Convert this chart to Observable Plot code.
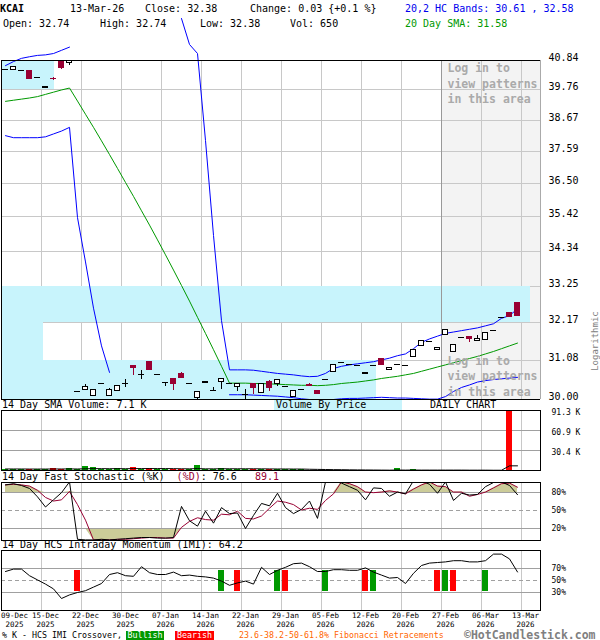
<!DOCTYPE html>
<html><head><meta charset="utf-8">
<script src="https://cdn.jsdelivr.net/npm/d3@7"></script>
<script src="https://cdn.jsdelivr.net/npm/@observablehq/plot@0.6"></script>
<style>
body{margin:0;background:#fff;}
#c{position:relative;width:600px;height:640px;overflow:hidden;font-family:"DejaVu Sans Mono",monospace;background:#fff;}
.t{position:absolute;white-space:pre;font-size:10px;line-height:10px;color:#000;}
</style></head><body><div id="c"></div><script>
// ---------------- data ----------------
const dates = ["2025-12-09","2025-12-10","2025-12-11","2025-12-12","2025-12-15","2025-12-16","2025-12-17","2025-12-18","2025-12-19","2025-12-22","2025-12-23","2025-12-24","2025-12-26","2025-12-29","2025-12-30","2025-12-31","2026-01-02","2026-01-05","2026-01-06","2026-01-07","2026-01-08","2026-01-09","2026-01-12","2026-01-13","2026-01-14","2026-01-15","2026-01-16","2026-01-20","2026-01-21","2026-01-22","2026-01-23","2026-01-26","2026-01-27","2026-01-28","2026-01-29","2026-01-30","2026-02-02","2026-02-03","2026-02-04","2026-02-05","2026-02-06","2026-02-09","2026-02-10","2026-02-11","2026-02-12","2026-02-13","2026-02-17","2026-02-18","2026-02-19","2026-02-20","2026-02-23","2026-02-24","2026-02-25","2026-02-26","2026-02-27","2026-03-02","2026-03-03","2026-03-04","2026-03-05","2026-03-06","2026-03-09","2026-03-10","2026-03-11","2026-03-12","2026-03-13"];
const open = [40.50,40.50,40.47,40.47,40.20,39.84,40.17,40.77,40.74,30.21, 30.25,30.10,30.43,30.10,30.24,30.44,30.92,30.68,31.03,30.68, 30.47,30.56,30.70,30.43,30.03,30.45,30.24,30.47,30.45,30.35, 30.14,30.42,30.17,30.49,30.43,30.35,30.08,30.27,30.41,30.24, 30.56,30.77,31.03,30.96,30.93,30.70,30.93,31.13,30.83,30.97, 30.95,31.17,31.49,31.63,31.37,31.82,31.33,31.75,31.75,31.63, 31.66,31.95,32.32,32.47,32.74];
const high = [40.50,40.60,40.47,40.47,40.20,39.87,40.22,40.77,40.84,30.21, 30.40,30.27,30.43,30.31,30.38,30.54,30.92,30.79,31.03,30.68, 30.47,30.56,30.74,30.43,30.21,30.49,30.33,30.56,30.45,30.43, 30.27,30.42,30.43,30.52,30.55,30.35,30.22,30.27,30.45,30.24, 30.56,30.96,31.03,30.96,30.93,30.74,30.93,31.13,30.87,30.97, 30.95,31.38,31.65,31.63,31.44,31.97,31.52,31.75,31.75,31.81, 31.86,31.95,32.32,32.47,32.74];
const low = [40.50,40.50,40.47,40.15,40.20,39.84,40.10,40.50,40.65,30.21, 30.24,30.10,30.43,30.10,30.24,30.33,30.66,30.55,30.81,30.68, 30.36,30.24,30.57,30.43,30.00,30.45,30.24,30.27,30.45,30.22, 30.00,30.14,30.17,30.22,30.35,30.35,30.08,30.27,30.35,30.16, 30.56,30.77,31.03,30.96,30.93,30.70,30.93,30.96,30.83,30.97, 30.95,31.17,31.49,31.63,31.37,31.82,31.33,31.75,31.60,31.63, 31.66,31.95,32.32,32.32,32.38];
const close = [40.50,40.60,40.47,40.15,40.20,39.87,40.15,40.55,40.81,30.21, 30.33,30.26,30.43,30.25,30.38,30.44,30.87,30.68,30.81,30.68, 30.47,30.43,30.60,30.43,30.21,30.49,30.24,30.56,30.45,30.43, 30.14,30.31,30.43,30.31,30.55,30.35,30.22,30.27,30.37,30.16, 30.56,30.96,31.03,30.96,30.93,30.74,30.93,30.96,30.87,30.97, 30.95,31.38,31.65,31.63,31.44,31.97,31.52,31.75,31.70,31.70, 31.86,31.95,32.32,32.35,32.38];
// volume in thousands of shares
const volume = [2.0,2.0,2.0,1.5,2.0,2.0,3.5,2.0,3.5,1.5, 6.6,5.1,2.0,1.5,3.5,1.5,5.1,1.5,3.5,1.5, 1.5,1.5,1.5,1.5,8.1,1.5,1.5,3.5,1.5,1.5, 1.5,2.0,1.5,1.5,1.5,1.5,1.5,1.5,0.1,0.1, 0.1,0.1,0.1,0.1,0.1,0.1,0.1,0.1,0.1,3.5, 0.1,2.0,0.1,0.1,0.1,0.1,0.1,0.1,0.1,0.1, 0.1,0.1,0.1,96.0,0.65];
const volumeSma14 = [2.3,2.3,2.3,2.2,2.2,2.2,2.3,2.3,2.4,2.3, 2.6,2.8,2.8,2.7,2.8,2.7,2.9,2.9,2.9,2.9, 2.9,2.8,2.6,2.5,2.9,2.5,2.5,2.6,2.6,2.6, 2.6,2.6,2.5,2.4,2.3,2.3,2.2,2.2,1.9,1.7, 1.5,1.3,1.2,1.0,0.9,0.8,0.7,0.6,0.5,0.7, 0.6,0.7,0.6,0.6,0.6,0.6,0.6,0.6,0.5,0.5, 0.5,0.4,0.4,7.1,7.1];
const sma20 = [39.35,39.39,39.43,39.47,39.52,39.60,39.68,39.76,39.83,39.36, 38.89,38.43,37.96,37.49,37.02,36.55,36.09,35.62,35.16,34.69, 34.22,33.75,33.28,32.81,32.33,31.86,31.39,30.92,30.45,30.45, 30.45,30.44,30.44,30.43,30.42,30.41,30.40,30.39,30.39,30.38, 30.39,30.41,30.44,30.46,30.48,30.51,30.54,30.58,30.61,30.64, 30.68,30.72,30.78,30.84,30.90,30.96,31.02,31.08,31.14,31.20, 31.27,31.34,31.42,31.50,31.58];
const bandUpper = [40.65,40.80,40.92,40.98,41.03,41.05,41.10,41.22,41.34,null, null,null,null,null,null,null,null,null,null,null, null,null,42.43,41.44,41.10,37.97,34.83,32.23,30.82,30.82, 30.82,30.81,30.78,30.75,30.72,30.70,30.68,30.65,30.63,30.64, 30.72,30.86,30.92,30.96,30.99,31.02,31.05,31.10,31.15,31.22, 31.27,31.42,31.60,31.70,31.78,31.86,31.90,31.94,31.98,32.02, 32.08,32.14,32.30,32.38,32.58];
const bandLower = [38.14,38.07,38.07,38.07,38.07,38.10,38.20,38.30,38.43,35.40, 34.00,32.60,31.50,30.75,null,null,null,null,null,null, null,null,null,null,null,null,null,null,30.13,30.13, 30.13,30.12,30.11,30.10,30.09,30.07,30.05,30.02,30.00,29.99, 29.99,30.00,30.02,30.03,30.03,30.04,30.05,30.06,30.05,30.04, 30.04,30.03,30.02,30.01,30.01,30.08,30.22,30.33,30.40,30.48, 30.52,30.55,30.57,30.59,30.61];
const stochK = [93,95,92,87,73,56,68,80,98,2, 1,1,2,1,2,3,4,5,5,4, 4,5,57,33,24,49,29,55,45,46, 20,42,62,58,79,55,45,52,66,37, 98,99,96,90,84,68,88,87,74,81, 78,100,100,94,79,98,67,79,76,77, 90,97,98,92,76.6];
const stochD = [93,94,93,91,84,72,66,68,82,60, 34,1,1,1,2,2,3,4,5,5, 4,4,22,32,38,35,34,44,43,49, 37,36,41,54,66,64,60,51,54,52, 67,78,98,95,90,81,80,81,83,81, 78,86,93,98,91,90,81,81,74,77, 81,88,95,96,89.1];
const imi = [65,69,69,58,51,44,36,20,26,30, 33,39,45,60,63,58,57,73,63,60, 60,64,58,59,57,56,54,49,42,46, 49,44,72,60,67,72,78,79,73,65, 65,68,68,67,67,71,64,59,54,55, 45,62,75,79,80,81,83,83,81,81, 83,94,94,86,64.2];
const signalDates = ["2025-12-22","2026-01-20","2026-01-22","2026-01-29","2026-01-30","2026-02-06","2026-02-13","2026-02-17","2026-02-27","2026-03-02","2026-03-03","2026-03-09"];
const signalTypes = ["Bearish","Bullish","Bearish","Bullish","Bearish","Bullish","Bearish","Bullish","Bearish","Bullish","Bearish","Bullish"];
const tickDates = ["2025-12-09","2025-12-15","2025-12-22","2025-12-30","2026-01-07","2026-01-14","2026-01-22","2026-01-29","2026-02-05","2026-02-12","2026-02-20","2026-02-27","2026-03-06","2026-03-13"];
const priceTicks = [30.00,31.08,32.17,33.25,34.34,35.42,36.50,37.59,38.67,39.76,40.84];
const vbpVolume = [69.6,7.8,98.1,0,0,0,0,0,0,9.8]; // volume-by-price per price zone (K)
const volumeTicks = [30.4,60.9,91.3];
const stochTicks = [20,50,80];
const imiTicks = [30,50,70];
const loginStart = "2026-02-27";

// ---------------- helpers ----------------
const idx = d => dates.indexOf(d) + 1;
const parse = d3.utcParse("%Y-%m-%d");
const fmtDay = d3.utcFormat("%d-%b"), fmtYear = d3.utcFormat("%Y");
const rows = dates.map((d, k) => ({i: k + 1, date: d, open: open[k], high: high[k], low: low[k], close: close[k],
  volume: volume[k], volSma: volumeSma14[k], sma: sma20[k], upper: bandUpper[k], lower: bandLower[k],
  k: stochK[k], d: stochD[k], imi: imi[k]}));
const signals = signalDates.map((d, k) => ({i: idx(d), type: signalTypes[k]}));
const vbp = vbpVolume.map((v, k) => ({lo: priceTicks[k], hi: priceTicks[k + 1], vol: v}));
const gridX = tickDates.slice(1).map(d => idx(d) + 0.5);
const xDomain = [0.5, 67.875];
const RED = "#990033", GRID = "#c8c8c8", LEVEL = "#a0a0a0";
const down = d => d.close < d.open;
const style = {background: "transparent", overflow: "visible", fontFamily: "DejaVu Sans Mono, monospace"};
const C = document.getElementById("c");
function place(svg, top) { svg.style.position = "absolute"; svg.style.left = "0px"; svg.style.top = top + "px"; C.appendChild(svg); }
const common = {width: 600, marginLeft: 1, marginRight: 60, style, color: {type: "identity"}};
const crisp = {shapeRendering: "crispEdges"};

// ---------------- main price panel ----------------
const mainY = {type: "log", domain: [priceTicks[0], priceTicks[priceTicks.length - 1]], axis: null};
const mainDims = {height: 400, marginTop: 60, marginBottom: 1};
place(Plot.plot({...common, ...mainDims, x: {domain: xDomain, axis: null}, y: mainY, marks: [
  Plot.rect([loginStart], {x1: d => idx(d) + 0.5, x2: xDomain[1], y1: mainY.domain[0], y2: mainY.domain[1], fill: "#f3f3f3"}),
  Plot.ruleX(gridX, {stroke: GRID, ...crisp})
]}), 0);
place(Plot.plot({...common, ...mainDims, x: {domain: [0, 100], axis: null}, y: mainY, marks: [
  Plot.ruleY(priceTicks.slice(1, -1), {stroke: GRID, ...crisp}),
  Plot.rect(vbp, {x1: 0, x2: "vol", y1: "lo", y2: "hi", fill: "#c8f4fc", ...crisp})
]}), 0);
place(Plot.plot({...common, ...mainDims, x: {domain: xDomain, axis: null}, y: mainY, marks: [
  Plot.ruleX([loginStart], {x: d => idx(d) + 0.5, stroke: "#999", ...crisp}),
  Plot.line(rows, {x: "i", y: "upper", stroke: "#0000ff", strokeWidth: 1}),
  Plot.line(rows, {x: "i", y: "lower", stroke: "#0000ff", strokeWidth: 1, clip: true}),
  Plot.line(rows, {x: "i", y: "sma", stroke: "#009900", strokeWidth: 1}),
  Plot.ruleX(rows.filter(d => d.high > d.low), {x: "i", y1: "low", y2: "high", stroke: d => down(d) ? RED : "black", ...crisp}),
  Plot.rect(rows.filter(d => d.open !== d.close), {x1: d => d.i - 0.33, x2: d => d.i + 0.33, y1: "open", y2: "close",
    fill: d => down(d) ? RED : "white", stroke: d => down(d) ? RED : "black", strokeWidth: 1, ...crisp}),
  Plot.ruleY(rows.filter(d => d.open === d.close), {y: "close", x1: d => d.i - 0.36, x2: d => d.i + 0.36, stroke: "black", ...crisp}),
  Plot.text([loginStart], {x: d => idx(d) + 0.5, frameAnchor: "top", text: () => "Log in to\nview patterns\nin this area",
    textAnchor: "start", lineAnchor: "top", dx: 6, dy: 1, fontSize: 11.5, lineHeight: 1.33, fill: "#aaa", fontWeight: "bold"}),
  Plot.text([loginStart], {x: d => idx(d) + 0.5, frameAnchor: "bottom", text: () => "Log in to\nview patterns\nin this area",
    textAnchor: "start", lineAnchor: "bottom", dx: 6, dy: -4, fontSize: 11.5, lineHeight: 1.33, fill: "#aaa", fontWeight: "bold"}),
  Plot.ruleY([mainY.domain[1]], {stroke: "black", ...crisp}),
  Plot.ruleY([mainY.domain[0]], {stroke: "black", ...crisp}),
  Plot.ruleX([xDomain[0]], {stroke: "black", ...crisp}),
  Plot.ruleX([xDomain[1]], {stroke: "#aaa", ...crisp}),
  Plot.axisY({anchor: "right", ticks: priceTicks, tickFormat: d => d.toFixed(2), tickSize: 0, tickPadding: 8, dy: -3, fontSize: 10, label: null})
]}), 0);

// ---------------- volume panel ----------------
place(Plot.plot({...common, height: 71, marginTop: 10, marginBottom: 1,
  x: {domain: xDomain, axis: null}, y: {domain: [0, volumeTicks[2]], axis: null}, marks: [
  Plot.ruleX(gridX, {stroke: GRID, ...crisp}),
  Plot.ruleY(volumeTicks.slice(0, 2), {stroke: LEVEL, ...crisp}),
  Plot.rect(rows, {x1: d => d.i - 0.36, x2: d => d.i + 0.36, y1: 0, y2: "volume", fill: d => down(d) ? "#ff0000" : "#009900", clip: true, ...crisp}),
  Plot.line(rows, {x: "i", y: "volSma", stroke: "black", strokeWidth: 1}),
  Plot.frame({stroke: "black", ...crisp}),
  Plot.axisY({anchor: "right", ticks: volumeTicks, tickFormat: d => d.toFixed(1) + " K", tickSize: 0, tickPadding: 11, dy: 1.5, fontSize: 8, label: null})
]}), 400);

// ---------------- stochastic panel ----------------
place(Plot.plot({...common, height: 69, marginTop: 10, marginBottom: 1,
  x: {domain: xDomain, axis: null}, y: {domain: [0, 97], axis: null}, marks: [
  Plot.ruleX(gridX, {stroke: GRID, ...crisp}),
  Plot.areaY(rows, {x: "i", y1: 80, y2: d => Math.max(d.d, 80), fill: "#cccc99", clip: true}),
  Plot.areaY(rows, {x: "i", y1: 20, y2: d => Math.min(d.d, 20), fill: "#cccc99", clip: true}),
  Plot.ruleY([20, 80], {stroke: LEVEL, ...crisp}),
  Plot.ruleY([50], {stroke: LEVEL, strokeDasharray: "4,3", ...crisp}),
  Plot.line(rows, {x: "i", y: "d", stroke: RED, strokeWidth: 1, clip: true}),
  Plot.line(rows, {x: "i", y: "k", stroke: "black", strokeWidth: 1, clip: true}),
  Plot.frame({stroke: "black", ...crisp}),
  Plot.axisY({anchor: "right", ticks: stochTicks, tickFormat: d => d + "%", tickSize: 0, tickPadding: 11, fontSize: 8, label: null})
]}), 472);

// ---------------- IMI panel + date axis ----------------
place(Plot.plot({...common, height: 100, marginTop: 10, marginBottom: 30,
  x: {domain: xDomain, axis: null}, y: {domain: [0, 100], axis: null}, marks: [
  Plot.ruleX(gridX, {stroke: GRID, ...crisp}),
  Plot.ruleY([30, 70], {stroke: LEVEL, ...crisp}),
  Plot.ruleY([50], {stroke: LEVEL, strokeDasharray: "4,3", ...crisp}),
  Plot.rect(signals, {x1: d => d.i - 0.36, x2: d => d.i + 0.36, y1: 30, y2: 70, insetTop: 1.5, insetBottom: 1.5,
    fill: d => d.type === "Bullish" ? "#009900" : "#ff0000", ...crisp}),
  Plot.line(rows, {x: "i", y: "imi", stroke: "black", strokeWidth: 1}),
  Plot.frame({stroke: "black", ...crisp}),
  Plot.axisY({anchor: "right", ticks: imiTicks, tickFormat: d => d + "%", tickSize: 0, tickPadding: 11, fontSize: 8, label: null}),
  Plot.text(tickDates.slice(1), {x: d => idx(d) + 0.5, text: d => fmtDay(parse(d)) + "\n" + fmtYear(parse(d)),
    frameAnchor: "bottom", lineAnchor: "top", dx: 4, dy: 2, fontSize: 7.5, lineHeight: 1.1}),
  Plot.text(tickDates.slice(0, 1), {x: d => idx(d) - 0.5, text: d => fmtDay(parse(d)) + "\n" + fmtYear(parse(d)),
    frameAnchor: "bottom", lineAnchor: "top", textAnchor: "middle", dx: 13, dy: 2, fontSize: 7.5, lineHeight: 1.1})
]}), 540);

// ---------------- text ----------------
function txt(html, left, top, extra) {
  const s = document.createElement("div"); s.className = "t"; s.innerHTML = html;
  s.style.left = left + "px"; s.style.top = top + "px";
  if (extra) Object.assign(s.style, extra);
  C.appendChild(s); return s;
}
const last = rows[rows.length - 1];
txt("<b>KCAI</b>", 0, 3.7);
txt("13-Mar-26", 70, 3.7);
txt("Close: " + last.close.toFixed(2), 145, 3.7);
txt("Change: 0.03 {+0.1 %}", 250, 3.7);
txt("Open: " + last.open.toFixed(2), 3, 18.7);
txt("High: " + last.high.toFixed(2), 100, 18.7);
txt("Low: " + last.low.toFixed(2), 200, 18.7);
txt("Vol: 650", 290, 18.7);
txt("20,2 HC Bands: " + last.lower.toFixed(2) + " , " + last.upper.toFixed(2), 405, 3.7, {color: "#0000ee"});
txt("20 Day SMA: " + last.sma.toFixed(2), 405, 18.7, {color: "#009900"});
txt("", 274, 400, {width: "128px", height: "10px", background: "#c8f4fc"});
txt("14 Day SMA Volume: 7.1 K", 2, 400.3);
txt("Volume By Price", 276, 400.3);
txt("DAILY CHART", 430, 400.3);
txt("14 Day Fast Stochastic (%K)  <span style='color:#990033'>(%D)</span>: 76.6   <span style='color:#990033'>89.1</span>", 2, 471.7);
txt("14 Day HCS Intraday Momentum (IMI): 64.2", 2, 540.3);
txt("Logarithmic", 560, 336, {fontSize: "9px", color: "#808080", transform: "rotate(-90deg)", transformOrigin: "center", width: "70px", textAlign: "center"});
const f = {fontSize: "8.3px", lineHeight: "9px"};
txt("% K - HCS IMI Crossover,", 2, 630.5, f);
txt("Bullish", 126, 630.5, {...f, background: "#009900", color: "#fff", width: "38px", textAlign: "center"});
txt("Bearish", 175, 630.5, {...f, background: "#ff0000", color: "#fff", width: "39px", textAlign: "center"});
txt("23.6-38.2-50-61.8% Fibonacci Retracements", 239, 630.5, {...f, color: "#ff6600"});
txt("\u00A9HotCandlestick.com", 464, 628.5, {fontSize: "11.5px", lineHeight: "12px", fontWeight: "bold", color: "#808080"});
</script></body></html>
